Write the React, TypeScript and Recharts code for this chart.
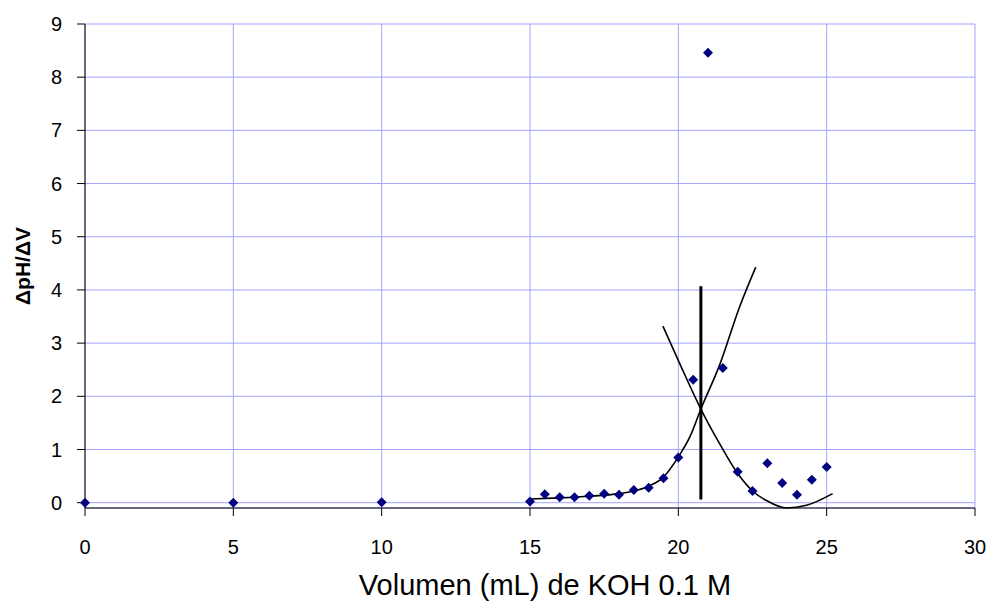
import React from 'react';
import {
  ComposedChart,
  Scatter,
  Line,
  XAxis,
  YAxis,
  CartesianGrid,
} from 'recharts';

// titration derivative data
const volumes = [0, 5, 10, 15, 15.5, 16, 16.5, 17, 17.5, 18, 18.5, 19, 19.5, 20, 20.5, 21, 21.5, 22, 22.5, 23, 23.5, 24, 24.5, 25];
const dpHdV = [0, 0, 0.01, 0.02, 0.16, 0.1, 0.1, 0.13, 0.17, 0.15, 0.24, 0.28, 0.46, 0.85, 2.31, 8.46, 2.53, 0.58, 0.22, 0.74, 0.37, 0.15, 0.43, 0.67];

// hand-drawn trend curves
const risingX = [15, 16, 17, 18, 18.5, 19, 19.5, 20, 20.4, 20.76, 21.4, 22.07, 22.61];
const risingY = [0.07, 0.09, 0.12, 0.17, 0.22, 0.31, 0.48, 0.86, 1.25, 1.76, 2.6, 3.69, 4.43];

const fallingX = [19.48, 20.1, 20.76, 21.4, 21.96, 22.52, 22.97, 23.65, 24.32, 25.2];
const fallingY = [3.32, 2.55, 1.76, 1.1, 0.58, 0.21, 0.04, -0.1, -0.05, 0.17];

const equivX = [20.76, 20.76];
const equivY = [4.07, 0.06];

const xTicks = [0, 5, 10, 15, 20, 25, 30];
const yTicks = [0, 1, 2, 3, 4, 5, 6, 7, 8, 9];

const points = volumes.map((x, i) => ({ x, y: dpHdV[i] }));
const rising = risingX.map((x, i) => ({ x, y: risingY[i] }));
const falling = fallingX.map((x, i) => ({ x, y: fallingY[i] }));
const equiv = equivX.map((x, i) => ({ x, y: equivY[i] }));

const FONT = 'Arial, "Liberation Sans", sans-serif';

const Diamond = (props: any) => {
  const { cx, cy } = props;
  if (cx == null || cy == null) return null;
  const r = 5;
  return (
    <polygon
      points={`${cx},${cy - r} ${cx + r},${cy} ${cx},${cy + r} ${cx - r},${cy}`}
      fill="#000080"
    />
  );
};

export default function App() {
  return (
    <div style={{ position: 'absolute', left: 0, top: 0, background: '#fff' }}>
      <ComposedChart
        width={990}
        height={611}
        margin={{ top: 24, right: 15, left: 0, bottom: 23 }}
        style={{ fontFamily: FONT }}
      >
        <CartesianGrid stroke="#a3a3ff" strokeWidth={1} />
        <XAxis
          dataKey="x"
          type="number"
          domain={[0, 30]}
          ticks={xTicks}
          allowDuplicatedCategory={false}
          height={80}
          tickSize={8}
          tickMargin={24}
          stroke="#000"
          tick={{ fill: '#000', fontSize: 20, fontFamily: FONT }}
          label={{
            content: (p: any) => {
              const vb = p.viewBox;
              return (
                <text
                  x={vb.x + vb.width / 2 + 15}
                  y={vb.y + 87}
                  textAnchor="middle"
                  fontSize={29}
                  fontFamily={FONT}
                  fill="#000"
                >
                  Volumen (mL) de KOH 0.1 M
                </text>
              );
            },
          }}
        />
        <YAxis
          dataKey="y"
          type="number"
          domain={[() => 0, () => 9]}
          ticks={yTicks}
          width={85}
          tickSize={8}
          tickMargin={15}
          stroke="#000"
          tick={{ fill: '#000', fontSize: 20, fontFamily: FONT }}
          label={{
            content: (p: any) => {
              const vb = p.viewBox;
              const cx = vb.x + 22;
              const cy = vb.y + vb.height / 2;
              return (
                <text
                  x={cx}
                  y={cy}
                  transform={`rotate(-90, ${cx}, ${cy})`}
                  textAnchor="middle"
                  dominantBaseline="central"
                  fontSize={21}
                  fontWeight="bold"
                  fontFamily={FONT}
                  fill="#000"
                >
                  ΔpH/ΔV
                </text>
              );
            },
          }}
        />
        <Line
          data={rising}
          dataKey="y"
          type="monotone"
          stroke="#000"
          strokeWidth={1.6}
          dot={false}
          isAnimationActive={false}
        />
        <Line
          data={falling}
          dataKey="y"
          type="monotone"
          stroke="#000"
          strokeWidth={1.6}
          dot={false}
          isAnimationActive={false}
        />
        <Line
          data={equiv}
          dataKey="y"
          type="linear"
          stroke="#000"
          strokeWidth={3}
          dot={false}
          isAnimationActive={false}
        />
        <Scatter data={points} dataKey="y" shape={<Diamond />} isAnimationActive={false} />
      </ComposedChart>
    </div>
  );
}
